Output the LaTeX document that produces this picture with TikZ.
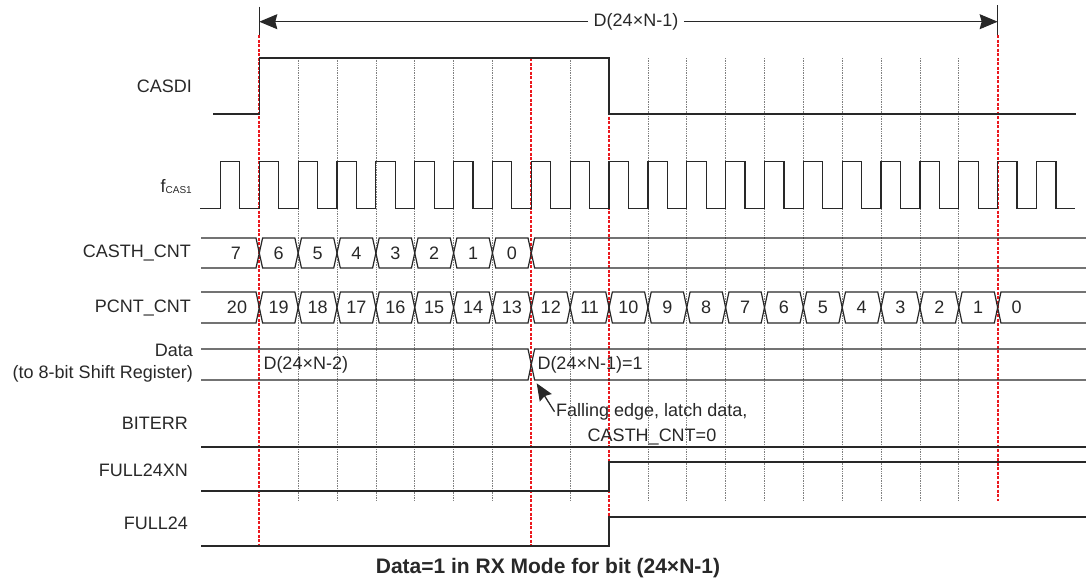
\documentclass[tikz,border=0pt]{standalone}
\usepackage{fontspec}
\setmainfont{Liberation Sans}
\usetikzlibrary{arrows.meta}

\definecolor{inkgray}{RGB}{40,40,40}
\definecolor{markred}{RGB}{235,25,30}

\tikzset{
  wave/.style={draw=inkgray, line width=1.2pt},
  gridtick/.style={draw=gray, line width=0.7pt, densely dotted},
  redmark/.style={draw=markred, line width=1.8pt, dash pattern=on 3pt off 1.5pt},
  siglabel/.style={anchor=east, inner sep=0pt, text=inkgray, font=\fontsize{18}{21}\selectfont},
  busval/.style={inner sep=0pt, text=inkgray, font=\fontsize{18}{21}\selectfont},
}

\def\xo{259.3}
\def\per{38.86}

\begin{document}
\begin{tikzpicture}[x=1pt, y=-1pt]
  \useasboundingbox (0,0) rectangle (1086,582);

  % grid
  \foreach \k in {1,...,6,8,10,11,...,18}
    \draw[gridtick] (\xo+\k*\per,58) -- (\xo+\k*\per,501);
  \draw[redmark] (\xo,35) -- (\xo,547);
  \foreach \k in {7,9}
    \draw[redmark] (\xo+\k*\per,58) -- (\xo+\k*\per,547);
  \draw[redmark] (\xo+19*\per,35) -- (\xo+19*\per,501);

  % length of the frame
  \coordinate (dimL) at (\xo,21.7);
  \coordinate (dimR) at (\xo+19*\per,21.7);
  \draw[wave] (\xo,6.7) -- (\xo,35);
  \draw[wave] (\xo+19*\per,5) -- (\xo+19*\per,35);
  \node[busval, inner sep=5.5pt] (dimlbl) at (636,21.7) {D(24×N-1)};
  \draw[wave, line width=1.1pt, -{Stealth[length=18pt, width=15pt, inset=2pt]}] (dimlbl.west) -- (dimL);
  \draw[wave, line width=1.1pt, -{Stealth[length=18pt, width=15pt, inset=2pt]}] (dimlbl.east) -- (dimR);

  % signal names
  \node[siglabel] (nCASDI) at (192,86) {CASDI};
  \node[siglabel, anchor=base east] (nfcas) at (192,192) {f\raisebox{-1pt}{\fontsize{10}{12}\selectfont CAS1}};
  \node[siglabel] (nCASTH) at (191,253) {CASTH\_CNT};
  \node[siglabel] (nPCNT) at (191,307.5) {PCNT\_CNT};
  \node[siglabel, align=right, font=\fontsize{18}{21.5}\selectfont] (nData) at (193,363) {Data\\(to 8-bit Shift Register)};
  \node[siglabel] (nBITERR) at (188,423.3) {BITERR};
  \node[siglabel] (nF24XN) at (188,470) {FULL24XN};
  \node[siglabel] (nF24) at (188,523.3) {FULL24};

  % CASDI
  \draw[wave] (213,114) -- (\xo,114) -- (\xo,58) -- (\xo+9*\per,58) -- (\xo+9*\per,114) -- (1076,114);

  % clock
  \draw[wave] (200,208.3) foreach \k in {-1,...,20} {
      -- (\xo+\k*\per,208.3) -- ++(0,-46.6) -- ++(19.43,0) -- ++(0,46.6) } -- (1075,208.3);

  % CASTH_CNT
  \draw[wave] (201,238) -- (\xo-3.3,238) -- (\xo,253) -- (\xo-3.3,268) -- (201,268);
  \node[busval] (cth7) at (236,253) {7};
  \foreach \k in {0,...,6} {
    \pgfmathsetmacro\xa{\xo+\k*\per}
    \pgfmathsetmacro\xb{\xo+(\k+1)*\per}
    \pgfmathtruncatemacro\v{6-\k}
    \draw[wave] (\xa,253) -- (\xa+3.3,238) -- (\xb-3.3,238) -- (\xb,253) -- (\xb-3.3,268) -- (\xa+3.3,268) -- cycle;
    \node[busval] (cth\v) at ({(\xa+\xb)/2},253) {\v};
  }
  \draw[wave] (1086,238) -- (\xo+7*\per+3.3,238) -- (\xo+7*\per,253) -- (\xo+7*\per+3.3,268) -- (1086,268);

  % PCNT_CNT
  \draw[wave] (201,292) -- (\xo-3.3,292) -- (\xo,307.5) -- (\xo-3.3,323) -- (201,323);
  \node[busval] (pc20) at (237,307.5) {20};
  \foreach \k in {0,...,18} {
    \pgfmathsetmacro\xa{\xo+\k*\per}
    \pgfmathsetmacro\xb{\xo+(\k+1)*\per}
    \pgfmathtruncatemacro\v{19-\k}
    \draw[wave] (\xa,307.5) -- (\xa+3.3,292) -- (\xb-3.3,292) -- (\xb,307.5) -- (\xb-3.3,323) -- (\xa+3.3,323) -- cycle;
    \node[busval] (pc\v) at ({(\xa+\xb)/2},307.5) {\v};
  }
  \draw[wave] (1086,292) -- (\xo+19*\per+3.3,292) -- (\xo+19*\per,307.5) -- (\xo+19*\per+3.3,323) -- (1086,323);
  \node[busval] (pc0) at (1016.7,307.5) {0};

  % Data
  \draw[wave] (201,349) -- (\xo+7*\per-3.3,349) -- (\xo+7*\per+3.3,380) -- (1086,380);
  \draw[wave] (201,380) -- (\xo+7*\per-3.3,380) -- (\xo+7*\per+3.3,349) -- (1086,349);
  \node[busval, anchor=west] (dold) at (263.3,365) {D(24×N-2)};
  \node[busval, anchor=west] (dnew) at (537.3,365) {D(24×N-1)=1};

  % note on the latch
  \coordinate (latchpt) at (536.7,383.3);
  \node[busval, anchor=west, inner sep=1.5pt] (fall1) at (554.5,411.7) {Falling edge, latch data,};
  \node[busval, anchor=base] (fall2) at (652,441.7) {CASTH\_CNT=0};
  \draw[wave, line width=1.3pt, -{Stealth[length=17pt, width=14pt, inset=2pt]}] (fall1.west) -- (latchpt);

  % BITERR
  \draw[wave] (201,447) -- (1086,447);

  % FULL24XN
  \draw[wave] (201,491) -- (\xo+9*\per,491) -- (\xo+9*\per,462) -- (1086,462);

  % FULL24
  \draw[wave] (201,546) -- (\xo+9*\per,546) -- (\xo+9*\per,517) -- (1086,517);

  \node[busval, font=\bfseries\fontsize{21}{24}\selectfont] (caption) at (548,568) {Data=1 in RX Mode for bit (24×N-1)};
\end{tikzpicture}
\end{document}
